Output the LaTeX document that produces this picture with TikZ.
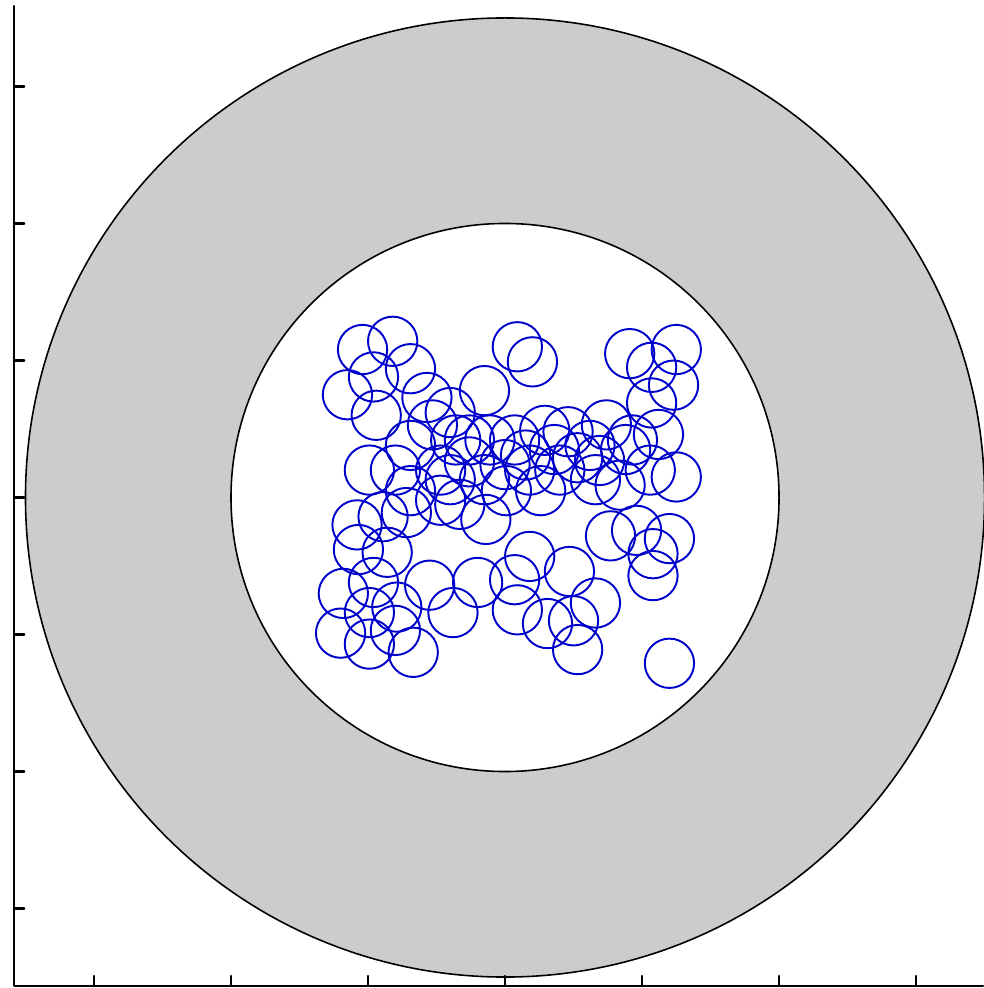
\documentclass[tikz,border=0pt]{standalone}
\usepackage{tikz}
\begin{document}
\begin{tikzpicture}[
  x=1.37cm,y=1.37cm,
  line cap=round,
  line join=round,
  axisline/.style={black,line width=0.6pt},
  ringline/.style={black,line width=0.45pt},
  disc/.style={blue!80!black,line width=0.55pt}
]
\path[use as bounding box] (-3.686,-3.580) rectangle (3.489,3.631);

\coordinate (O) at (0,0);
\coordinate (corner) at (-3.584,-3.566);

% gray ring between r=2 and r=3.5
\fill[gray!40,even odd rule] (O) circle (3.5) (O) circle (2);
\draw[ringline] (O) circle (3.5);
\draw[ringline] (O) circle (2);

% small circles
\foreach \u/\v in {
  -1.04/1.08, -0.82/1.14, -0.69/0.94, -0.96/0.88, -1.15/0.75,
  -0.94/0.60, -0.57/0.73, -0.40/0.62, -0.15/0.78, 0.09/1.10,
  0.20/0.99, 0.91/1.05, 1.25/1.08, 1.07/0.95, 1.23/0.82,
  1.07/0.69, 1.12/0.46, 1.25/0.15, -0.99/0.20, -0.69/0.38,
  -0.53/0.53, -0.36/0.42, -0.47/0.20, -0.26/0.26, -0.11/0.42,
  0.07/0.42, 0.29/0.49, 0.46/0.48, 0.74/0.53, 0.88/0.35,
  1.06/0.20, 0.69/0.27, 0.53/0.29, 0.40/0.20, 0.18/0.20,
  0.00/0.24, -0.15/0.13, -0.33/-0.05, -0.47/-0.02, -0.69/0.05,
  -0.89/-0.14, -1.08/-0.20, -0.72/-0.11, -0.14/-0.16, 0.01/0.05,
  0.26/0.05, 0.66/0.13, 0.84/0.09, 0.77/-0.28, 0.96/-0.24,
  1.20/-0.30, 1.08/-0.41, 1.08/-0.57, -1.07/-0.38, -0.86/-0.40,
  -1.18/-0.70, -0.96/-0.62, -0.99/-0.84, -1.20/-0.99, -0.99/-1.07,
  -0.80/-0.97, -0.67/-1.13, -0.79/-0.80, -0.55/-0.64, -0.38/-0.84,
  -0.20/-0.62, 0.07/-0.60, 0.09/-0.82, 0.18/-0.43, 0.47/-0.54,
  0.31/-0.92, 0.50/-0.90, 0.66/-0.77, 0.53/-1.11, 1.20/-1.21,
  -0.80/0.20, -0.26/0.42, 0.15/0.31, 0.62/0.38, 0.93/0.42,
  -0.40/0.13, 0.36/0.35}
  \draw[disc] (\u,\v) circle (0.18);

% axes and ticks
\draw[axisline] (-3.584,3.588) -- (corner) -- (3.489,-3.566);
\foreach \t in {-3,...,3} {
  \draw[axisline] (-3.584,\t) -- ++(0.075,0);
  \draw[axisline] (\t,-3.566) -- ++(0,0.075);
}
\end{tikzpicture}
\end{document}
